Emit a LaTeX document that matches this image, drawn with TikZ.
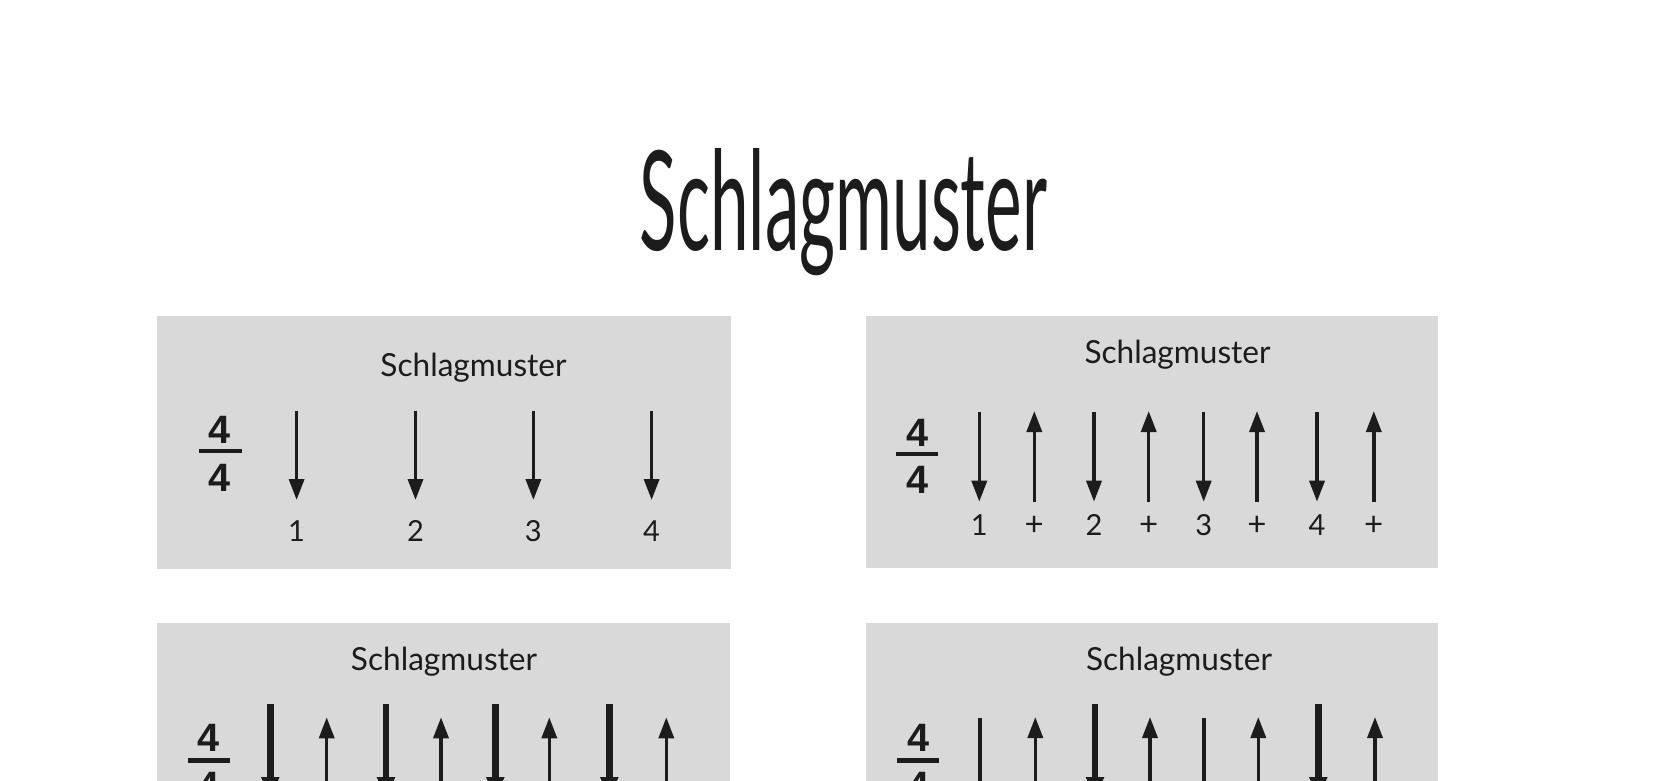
\documentclass[tikz,border=0pt]{standalone}
\usepackage{fontspec}
\setmainfont{Lato}
\newfontfamily\fracfont{Liberation Sans}
\usetikzlibrary{arrows.meta}
\definecolor{boxgray}{RGB}{217,217,217}
\definecolor{ink}{RGB}{28,28,28}
\tikzset{
  panel/.style={fill=boxgray, draw=none, inner sep=0pt, outer sep=0pt, anchor=north west},
  bigtitle/.style={inner sep=0pt, anchor=base, text=ink},
  subtitle/.style={inner sep=0pt, anchor=base, text=ink},
  countlabel/.style={inner sep=0pt, anchor=base, text=ink, font=\fontsize{14.5}{16}\selectfont},
  pluslabel/.style={inner sep=0pt, anchor=base, text=ink, font=\fontsize{16.5}{18}\selectfont},
  fracdigit/.style={inner sep=0pt, anchor=base, text=ink, font=\fracfont\bfseries\fontsize{19.8}{21}\selectfont},
  fracbar/.style={draw=ink, line width=2.3pt},
  strokedown/.style={draw=ink, line width=1.75pt, -{Triangle[length=10.5pt,width=7.5pt]}},
  strokeup/.style={draw=ink, line width=1.75pt, -{Triangle[length=10.5pt,width=7.5pt]}},
  heavydown/.style={draw=ink, line width=3.3pt, -{Triangle[length=10.5pt,width=8.5pt]}},
  lightdown/.style={draw=ink, line width=1.75pt},
}
\begin{document}
\begin{tikzpicture}[x=0.5pt,y=-0.5pt]
\useasboundingbox (0,0) rectangle (1659,781);
\clip (0,0) rectangle (1659,781);
\fill[white] (0,0) rectangle (1659,781);

% title
\node[bigtitle] (title) at (843.5,250) {\resizebox{203.5pt}{51pt}{Schlagmuster}};

% panels
\node[panel, minimum width=287pt, minimum height=126.5pt] (box1) at (157,316) {};
\node[panel, minimum width=286pt, minimum height=126pt] (box2) at (866,316) {};
\node[panel, minimum width=286.5pt, minimum height=140pt] (box3) at (157,623) {};
\node[panel, minimum width=286pt, minimum height=140pt] (box4) at (866,623) {};

% subtitles
\node[subtitle] (sub1) at (473.5,376.7) {\resizebox{93pt}{11.7pt}{Schlagmuster}};
\node[subtitle] (sub2) at (1177.5,363.3) {\resizebox{93pt}{11.7pt}{Schlagmuster}};
\node[subtitle] (sub3) at (444,670.7) {\resizebox{93pt}{11.7pt}{Schlagmuster}};
\node[subtitle] (sub4) at (1179,670.7) {\resizebox{93pt}{11.7pt}{Schlagmuster}};

% time signatures
\node[fracdigit] (f1top) at (220,443.5) {4};
\node[fracdigit] (f1bot) at (220,491) {4};
\coordinate (f1l) at (199,451); \coordinate (f1r) at (241.5,451);
\draw[fracbar] (f1l) -- (f1r);

\node[fracdigit] (f2top) at (917,446.7) {4};
\node[fracdigit] (f2bot) at (917,493.5) {4};
\coordinate (f2l) at (896,454); \coordinate (f2r) at (938,454);
\draw[fracbar] (f2l) -- (f2r);

\node[fracdigit] (f3top) at (209,751.7) {4};
\node[fracdigit] (f3bot) at (209,799.5) {4};
\coordinate (f3l) at (188,760.7); \coordinate (f3r) at (230,760.7);
\draw[fracbar] (f3l) -- (f3r);

\node[fracdigit] (f4top) at (918,751.7) {4};
\node[fracdigit] (f4bot) at (918,799.5) {4};
\coordinate (f4l) at (897,760.7); \coordinate (f4r) at (939,760.7);
\draw[fracbar] (f4l) -- (f4r);

% panel 1: four down strokes
\foreach \i/\x in {1/296.6,2/415.5,3/533.4,4/651.6} {
  \coordinate (A\i-top) at (\x,410.5);
  \coordinate (A\i-bot) at (\x,500);
  \draw[strokedown] (A\i-top) -- (A\i-bot);
  \node[countlabel] (A\i-lab) at (\x,541.7) {\i};
}

% panel 2: down / up
\foreach \i/\x/\t in {1/979.3/1,3/1094/2,5/1203.7/3,7/1317/4} {
  \coordinate (B\i-top) at (\x,411.7);
  \coordinate (B\i-bot) at (\x,501.7);
  \draw[strokedown] (B\i-top) -- (B\i-bot);
  \node[countlabel] (B\i-lab) at (\x,535) {\t};
}
\foreach \i/\x in {2/1034.3,4/1148.7,6/1257,8/1373.8} {
  \coordinate (B\i-top) at (\x,411);
  \coordinate (B\i-bot) at (\x,501.7);
  \draw[strokeup] (B\i-bot) -- (B\i-top);
  \node[pluslabel] (B\i-lab) at (\x,535) {+};
}

% panel 3: heavy down / up
\foreach \i/\x in {1/270.3,3/386,5/495.3,7/609.3} {
  \coordinate (C\i-top) at (\x,704.3);
  \coordinate (C\i-bot) at (\x,798);
  \draw[heavydown] (C\i-top) -- (C\i-bot);
}
\foreach \i/\x in {2/326.7,4/441,6/549.3,8/666.3} {
  \coordinate (C\i-top) at (\x,717.3);
  \coordinate (C\i-bot) at (\x,800);
  \draw[strokeup] (C\i-bot) -- (C\i-top);
}

% panel 4: light / heavy down, up
\foreach \i/\x in {1/980,5/1204} {
  \coordinate (D\i-top) at (\x,718);
  \coordinate (D\i-bot) at (\x,800);
  \draw[lightdown] (D\i-top) -- (D\i-bot);
}
\foreach \i/\x in {3/1095,7/1318.3} {
  \coordinate (D\i-top) at (\x,704.3);
  \coordinate (D\i-bot) at (\x,798);
  \draw[heavydown] (D\i-top) -- (D\i-bot);
}
\foreach \i/\x in {2/1035.3,4/1150,6/1258.3,8/1375} {
  \coordinate (D\i-top) at (\x,717);
  \coordinate (D\i-bot) at (\x,800);
  \draw[strokeup] (D\i-bot) -- (D\i-top);
}
\end{tikzpicture}
\end{document}
